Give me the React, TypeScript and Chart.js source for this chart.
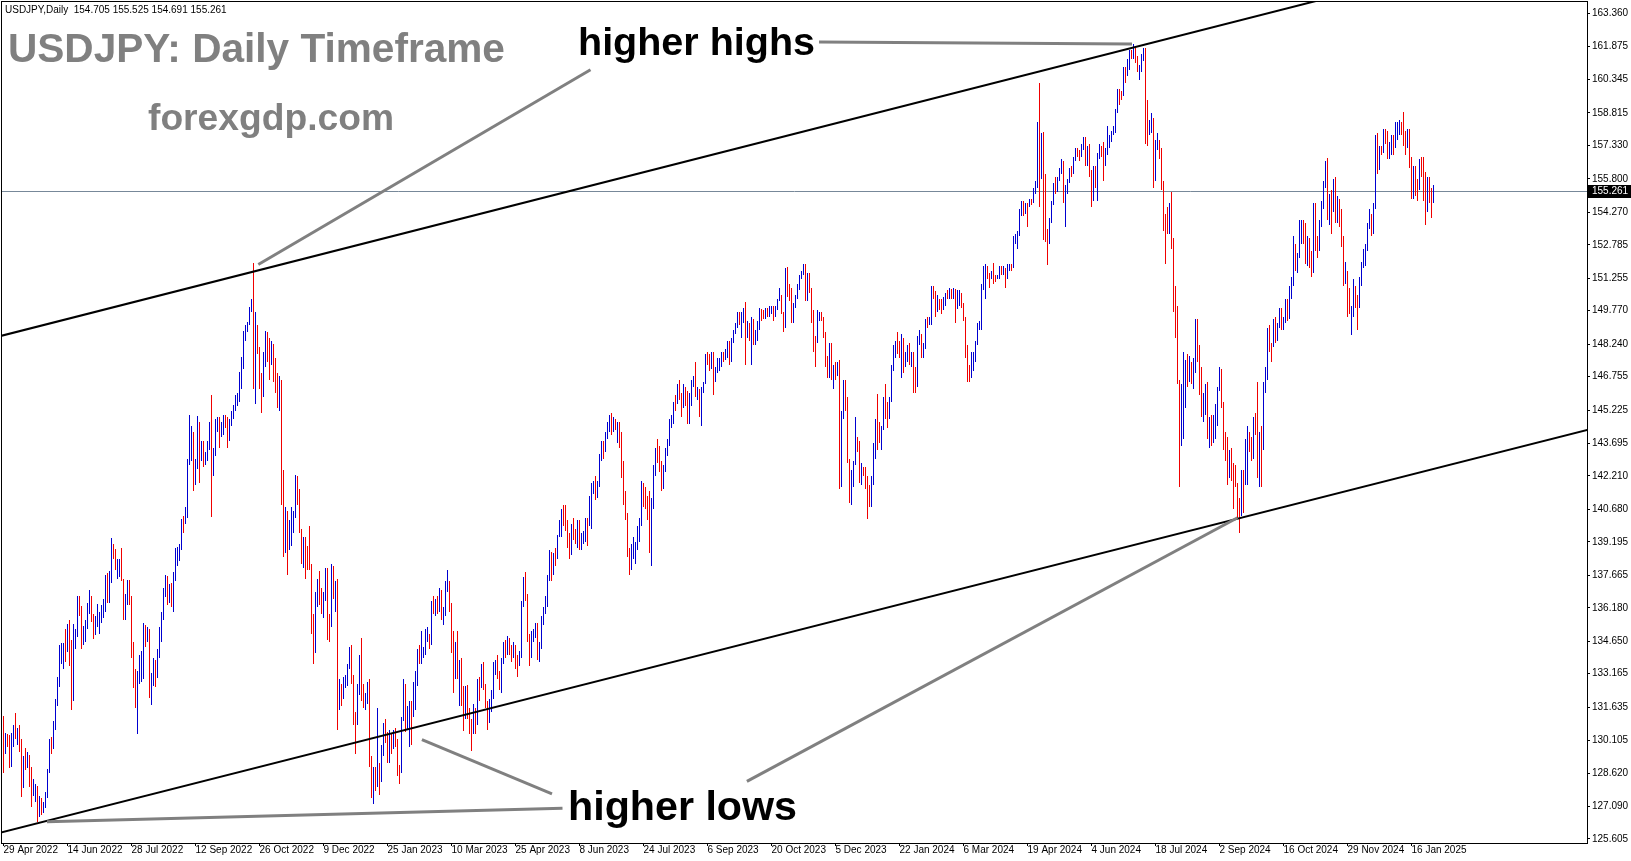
import { useEffect, useRef } from "react";
import { Chart, registerables } from "chart.js";

Chart.register(...registerables);

// ---------- text / axis data ----------
const HEADER_TEXT = "USDJPY,Daily  154.705 155.525 154.691 155.261";
const TITLE_TEXT = "USDJPY: Daily Timeframe";
const SITE_TEXT = "forexgdp.com";
const HIGHS_TEXT = "higher highs";
const LOWS_TEXT = "higher lows";
const CURRENT_PRICE = 155.261;

const Y_TICKS = [
  163.36, 161.875, 160.345, 158.815, 157.33, 155.8, 154.27, 152.785, 151.255, 149.77, 148.24, 146.755, 145.225,
  143.695, 142.21, 140.68, 139.195, 137.665, 136.18, 134.65, 133.165, 131.635, 130.105, 128.62, 127.09, 125.605,
];
const X_LABELS = [
  "29 Apr 2022", "14 Jun 2022", "28 Jul 2022", "12 Sep 2022", "26 Oct 2022", "9 Dec 2022", "25 Jan 2023",
  "10 Mar 2023", "25 Apr 2023", "8 Jun 2023", "24 Jul 2023", "6 Sep 2023", "20 Oct 2023", "5 Dec 2023",
  "22 Jan 2024", "6 Mar 2024", "19 Apr 2024", "4 Jun 2024", "18 Jul 2024", "2 Sep 2024", "16 Oct 2024",
  "29 Nov 2024", "16 Jan 2025",
];
const BARS_PER_LABEL = 32;

// ---------- daily OHLC bars [open, high, low, close] ----------
const M2022_04 = [[130.85, 131.25, 128.62, 129.7]];
const M2022_05 = [
  [129.7, 130.45, 129.5, 130.18], [130.18, 130.4, 129.8, 130.12], [130.12, 130.38, 128.85, 129.08], [129.08, 130.45, 128.9, 130.22],
  [130.22, 130.8, 129.8, 130.55], [130.55, 131.35, 130.2, 130.28], [130.28, 130.7, 129.9, 130.45], [130.45, 130.8, 129.6, 129.95],
  [129.95, 130.2, 127.52, 128.35], [128.35, 129.4, 127.95, 129.25], [129.25, 129.75, 128.75, 129.18], [129.18, 129.6, 128.85, 129.4],
  [129.4, 129.45, 128.0, 128.25], [128.25, 128.9, 127.05, 127.8], [127.8, 128.35, 127.55, 127.88], [127.88, 128.1, 127.3, 127.9],
  [127.9, 128.05, 126.36, 126.85], [126.85, 127.55, 126.6, 127.3], [127.3, 127.5, 126.7, 127.1], [127.1, 127.3, 126.8, 127.12],
  [127.12, 127.75, 127.0, 127.6], [127.6, 128.8, 127.5, 128.68],
];
const M2022_06 = [
  [128.68, 130.2, 128.6, 130.05], [130.05, 130.25, 129.5, 129.88], [129.88, 131.0, 129.7, 130.85], [130.85, 132.0, 130.6, 131.9],
  [131.9, 133.0, 131.7, 132.65], [132.65, 134.5, 132.55, 134.25], [134.25, 134.55, 133.6, 134.35], [134.35, 134.55, 133.4, 134.4],
  [134.4, 135.2, 133.7, 134.38], [134.38, 135.45, 134.15, 135.45], [135.45, 135.6, 133.5, 133.9], [133.9, 134.7, 131.5, 132.2],
  [132.2, 135.45, 131.9, 134.95], [134.95, 135.2, 134.3, 135.05], [135.05, 136.7, 134.85, 136.6], [136.6, 136.7, 135.8, 136.2],
  [136.2, 136.25, 134.3, 134.9], [134.9, 135.35, 134.5, 135.2], [135.2, 135.6, 134.6, 135.45], [135.45, 136.4, 135.2, 136.15],
  [136.15, 137.0, 135.9, 136.6], [136.6, 136.7, 135.55, 135.7],
];
const M2022_07 = [
  [135.7, 135.9, 134.75, 135.2], [135.2, 135.8, 134.95, 135.7], [135.7, 136.35, 135.3, 135.85], [135.85, 136.0, 135.0, 135.9],
  [135.9, 136.3, 135.5, 136.0], [136.0, 136.6, 135.7, 136.1], [136.1, 137.7, 136.0, 137.4], [137.4, 137.75, 136.4, 136.85],
  [136.85, 137.85, 136.4, 137.4], [137.4, 139.39, 137.3, 138.9], [138.9, 139.1, 138.4, 138.55], [138.55, 138.85, 137.9, 138.15],
  [138.15, 138.4, 137.5, 138.2], [138.2, 138.4, 137.6, 138.25], [138.25, 138.9, 137.4, 137.4], [137.4, 137.5, 135.6, 136.1],
  [136.1, 136.8, 135.6, 136.65], [136.65, 137.45, 136.3, 136.95], [136.95, 137.45, 136.3, 136.6], [136.6, 136.7, 133.9, 134.25],
  [134.25, 134.6, 132.5, 133.25],
];
const M2022_08 = [
  [133.25, 133.4, 131.6, 131.6], [131.6, 133.3, 130.4, 133.15], [133.15, 134.0, 132.7, 133.85], [133.85, 134.2, 132.8, 133.9],
  [133.9, 135.5, 132.9, 135.0], [135.0, 135.4, 134.4, 134.95], [134.95, 135.3, 134.6, 135.1], [135.1, 135.2, 132.05, 132.9],
  [132.9, 133.2, 131.75, 133.0], [133.0, 133.9, 132.6, 133.45], [133.45, 133.8, 132.55, 133.3], [133.3, 134.3, 132.95, 134.2],
  [134.2, 135.3, 133.9, 135.0], [135.0, 136.0, 134.6, 135.9], [135.9, 137.1, 135.6, 136.95], [136.95, 137.7, 136.65, 137.5],
  [137.5, 137.65, 136.3, 136.8], [136.8, 137.25, 136.4, 137.15], [137.15, 137.3, 136.2, 136.6], [136.6, 137.8, 136.0, 137.6],
  [137.6, 138.9, 137.4, 138.7], [138.7, 138.95, 138.1, 138.75], [138.75, 139.1, 138.3, 138.95],
];
const M2022_09 = [
  [138.95, 140.25, 138.8, 140.2], [140.2, 140.4, 139.6, 140.15], [140.15, 140.8, 140.0, 140.5], [140.5, 143.0, 140.3, 142.8],
  [142.8, 145.0, 142.7, 144.0], [144.0, 144.5, 142.9, 144.1], [144.1, 144.2, 141.5, 142.6], [142.6, 143.0, 141.8, 142.8],
  [142.8, 144.95, 142.55, 144.6], [144.6, 144.7, 141.9, 143.2], [143.2, 143.8, 142.9, 143.5], [143.5, 143.8, 142.6, 142.9],
  [142.9, 143.3, 142.7, 143.2], [143.2, 143.8, 142.9, 143.7], [143.7, 144.7, 143.4, 144.1], [144.1, 145.9, 140.35, 142.4],
  [142.4, 143.5, 142.2, 143.4], [143.4, 144.8, 143.1, 144.7], [144.7, 144.9, 144.2, 144.8], [144.8, 144.9, 143.5, 144.2],
  [144.2, 144.7, 144.0, 144.5], [144.5, 145.0, 144.1, 144.7],
];
const M2022_10 = [
  [144.7, 145.0, 144.4, 144.6], [144.6, 144.9, 143.5, 144.1], [144.1, 144.8, 143.8, 144.6], [144.6, 145.2, 144.5, 145.1],
  [145.1, 145.45, 144.8, 145.3], [145.3, 145.9, 145.2, 145.7], [145.7, 146.0, 145.4, 145.8], [145.8, 146.95, 145.6, 146.9],
  [146.9, 147.65, 146.2, 147.2], [147.2, 148.85, 147.1, 148.7], [148.7, 149.1, 148.4, 149.0], [149.0, 149.25, 148.8, 149.2],
  [149.2, 149.95, 149.1, 149.9], [149.9, 150.3, 149.7, 150.1], [150.1, 151.94, 146.2, 147.6], [147.6, 149.7, 145.5, 148.9],
  [148.9, 149.1, 147.8, 148.0], [148.0, 148.1, 146.2, 146.4], [146.4, 146.9, 145.1, 146.3], [146.3, 147.9, 145.8, 147.5],
  [147.5, 148.85, 147.2, 148.7],
];
const M2022_11 = [
  [148.7, 148.8, 147.4, 148.2], [148.2, 148.5, 146.6, 147.9], [147.9, 148.4, 147.3, 148.1], [148.1, 148.25, 146.5, 146.6],
  [146.6, 147.6, 146.0, 146.55], [146.55, 146.9, 145.3, 145.6], [145.6, 146.8, 145.2, 146.4], [146.4, 146.6, 140.9, 141.0],
  [141.0, 142.5, 138.5, 138.8], [138.8, 140.8, 138.7, 139.9], [139.9, 140.6, 137.7, 139.3], [139.3, 140.2, 138.8, 139.5],
  [139.5, 140.8, 139.0, 140.2], [140.2, 140.6, 139.6, 140.4], [140.4, 142.25, 140.3, 142.1], [142.1, 142.2, 140.9, 141.2],
  [141.2, 141.6, 139.6, 139.6], [139.6, 139.8, 138.2, 138.5], [138.5, 139.4, 138.0, 139.2], [139.2, 139.4, 137.5, 138.9],
  [138.9, 139.0, 137.9, 138.7], [138.7, 139.9, 137.9, 138.1],
];
const M2022_12 = [
  [138.1, 138.2, 135.0, 135.3], [135.3, 135.9, 133.6, 134.3], [134.3, 136.9, 134.1, 136.8], [136.8, 137.5, 136.2, 137.0],
  [137.0, 137.85, 136.3, 136.6], [136.6, 137.1, 135.9, 136.55], [136.55, 136.9, 135.7, 136.6], [136.6, 138.0, 136.5, 137.7],
  [137.7, 138.0, 134.7, 135.6], [135.6, 135.9, 134.6, 135.5], [135.5, 138.2, 135.3, 137.8], [137.8, 138.1, 136.6, 136.7],
  [136.7, 137.4, 136.0, 136.9], [136.9, 137.5, 130.6, 131.7], [131.7, 132.9, 131.5, 132.4], [132.4, 132.7, 131.7, 132.35],
  [132.35, 133.0, 132.0, 132.8], [132.8, 133.1, 132.5, 132.9], [132.9, 133.6, 132.6, 133.5], [133.5, 134.4, 133.4, 134.4],
  [134.4, 134.5, 132.7, 133.0], [133.0, 133.1, 130.8, 131.1],
];
const M2023_01 = [
  [131.1, 131.4, 129.5, 131.0], [131.0, 132.7, 130.8, 132.4], [132.4, 134.0, 132.2, 133.4], [133.4, 134.8, 131.9, 132.1],
  [132.1, 132.7, 131.6, 131.9], [131.9, 132.3, 131.5, 132.2], [132.2, 132.8, 131.8, 132.4], [132.4, 132.9, 128.9, 129.2],
  [129.2, 129.4, 127.5, 127.9], [127.9, 128.9, 127.2, 128.5], [128.5, 128.9, 127.8, 128.4], [128.4, 131.6, 128.0, 128.9],
  [128.9, 129.1, 127.6, 128.4], [128.4, 129.9, 128.2, 129.6], [129.6, 130.9, 129.4, 130.7], [130.7, 131.1, 130.0, 130.2],
  [130.2, 130.5, 129.1, 129.2], [129.2, 130.6, 129.1, 130.2], [130.2, 130.4, 129.5, 129.9], [129.9, 130.6, 129.7, 130.4],
  [130.4, 130.7, 129.8, 130.1],
];
const M2023_02 = [
  [130.1, 130.2, 128.5, 128.9], [128.9, 129.0, 128.1, 128.7], [128.7, 131.2, 128.6, 131.2], [131.2, 132.9, 131.0, 132.6],
  [132.6, 132.7, 130.5, 131.1], [131.1, 131.7, 130.6, 131.4], [131.4, 131.9, 129.8, 131.45], [131.45, 131.9, 129.9, 131.35],
  [131.35, 132.8, 131.2, 132.4], [132.4, 133.3, 131.5, 133.1], [133.1, 134.3, 132.6, 134.1], [134.1, 134.5, 133.6, 133.9],
  [133.9, 135.1, 133.6, 134.2], [134.2, 134.4, 133.9, 134.25], [134.25, 135.2, 134.0, 134.9], [134.9, 135.3, 134.6, 134.95],
  [134.95, 135.0, 134.3, 134.7], [134.7, 136.5, 134.5, 136.45], [136.45, 136.7, 135.9, 136.2], [136.2, 136.6, 135.8, 136.25],
];
const M2023_03 = [
  [136.25, 136.7, 135.9, 136.1], [136.1, 137.1, 136.0, 136.7], [136.7, 137.0, 135.6, 135.9], [135.9, 136.2, 135.4, 135.95],
  [135.95, 137.4, 135.8, 137.2], [137.2, 137.9, 136.9, 137.3], [137.3, 137.4, 136.0, 136.1], [136.1, 136.4, 134.1, 134.9],
  [134.9, 135.1, 132.3, 133.2], [133.2, 134.6, 132.9, 134.2], [134.2, 135.1, 132.9, 133.4], [133.4, 133.8, 131.7, 133.7],
  [133.7, 133.9, 131.7, 131.9], [131.9, 132.6, 130.55, 131.4], [131.4, 132.6, 131.1, 132.5], [132.5, 132.65, 131.1, 131.5],
  [131.5, 131.6, 130.4, 130.9], [130.9, 131.1, 129.65, 130.7], [130.7, 131.8, 130.4, 131.5], [131.5, 131.6, 130.4, 130.9],
  [130.9, 132.9, 130.8, 132.8], [132.8, 133.0, 131.9, 132.7], [132.7, 133.6, 132.5, 132.8],
];
const M2023_04 = [
  [132.8, 133.7, 132.4, 132.5], [132.5, 132.7, 131.6, 131.7], [131.7, 131.9, 130.6, 131.3], [131.3, 132.0, 130.9, 131.8],
  [131.8, 132.4, 131.4, 132.2], [132.2, 133.7, 132.0, 133.6], [133.6, 133.8, 133.1, 133.7], [133.7, 134.0, 132.9, 133.1],
  [133.1, 133.3, 132.4, 132.6], [132.6, 133.9, 132.3, 133.8], [133.8, 134.6, 133.6, 134.5], [134.5, 134.7, 133.9, 134.1],
  [134.1, 134.9, 134.0, 134.7], [134.7, 134.8, 134.0, 134.3], [134.3, 134.5, 133.7, 134.1], [134.1, 134.6, 133.9, 134.3],
  [134.3, 134.5, 133.4, 133.7], [133.7, 134.0, 133.0, 133.6], [133.6, 134.2, 133.5, 133.9], [133.9, 136.5, 133.9, 136.3],
];
const M2023_05 = [
  [136.3, 137.6, 136.2, 137.5], [137.5, 137.8, 136.5, 136.6], [136.6, 136.8, 134.6, 134.6], [134.6, 135.0, 133.5, 134.3],
  [134.3, 135.1, 133.9, 134.8], [134.8, 135.2, 134.6, 135.1], [135.1, 135.5, 134.8, 135.2], [135.2, 135.5, 133.8, 134.3],
  [134.3, 134.6, 133.7, 134.5], [134.5, 135.8, 134.3, 135.7], [135.7, 136.2, 135.4, 136.1], [136.1, 136.7, 135.9, 136.4],
  [136.4, 137.7, 136.2, 137.6], [137.6, 138.8, 137.4, 138.7], [138.7, 138.75, 137.4, 137.9], [137.9, 138.7, 137.7, 138.6],
  [138.6, 138.9, 138.1, 138.55], [138.55, 139.5, 138.4, 139.5], [139.5, 140.2, 139.4, 140.1], [140.1, 140.7, 139.4, 140.6],
  [140.6, 140.9, 139.9, 140.4], [140.4, 140.9, 139.7, 139.8], [139.8, 140.2, 138.9, 139.3],
];
const M2023_06 = [
  [139.3, 139.6, 138.4, 138.8], [138.8, 140.0, 138.6, 139.9], [139.9, 140.3, 139.3, 139.6], [139.6, 139.8, 139.1, 139.55],
  [139.55, 140.2, 138.9, 140.1], [140.1, 140.2, 138.8, 139.0], [139.0, 139.6, 138.8, 139.4], [139.4, 139.7, 139.1, 139.6],
  [139.6, 140.3, 139.2, 140.2], [140.2, 140.3, 139.0, 140.0], [140.0, 141.3, 139.9, 140.3], [140.3, 141.9, 139.8, 141.8],
  [141.8, 142.0, 141.4, 141.9], [141.9, 142.2, 141.1, 141.5], [141.5, 142.0, 141.2, 141.9], [141.9, 143.2, 141.7, 143.1],
  [143.1, 143.8, 142.9, 143.7], [143.7, 143.8, 143.0, 143.5], [143.5, 144.2, 143.3, 144.0], [144.0, 144.7, 143.9, 144.4],
  [144.4, 145.0, 144.2, 144.8], [144.8, 145.1, 144.1, 144.3],
];
const M2023_07 = [
  [144.3, 144.9, 144.2, 144.7], [144.7, 144.8, 144.3, 144.5], [144.5, 144.7, 143.7, 144.6], [144.6, 144.7, 143.5, 144.1],
  [144.1, 144.2, 142.1, 142.1], [142.1, 142.9, 140.9, 141.3], [141.3, 141.5, 140.2, 140.4], [140.4, 140.5, 138.5, 138.5],
  [138.5, 138.9, 137.7, 138.1], [138.1, 139.1, 137.9, 138.8], [138.8, 139.4, 138.4, 139.0], [139.0, 139.2, 138.2, 139.1],
  [139.1, 139.9, 138.8, 139.7], [139.7, 140.3, 139.2, 140.1], [140.1, 142.0, 139.9, 141.8], [141.8, 141.9, 140.8, 141.5],
  [141.5, 141.7, 140.7, 140.9], [140.9, 141.3, 140.2, 140.3], [141.4, 141.5, 138.7, 139.5], [139.5, 141.2, 138.1, 141.1],
  [141.1, 142.7, 140.7, 142.3],
];
const M2023_08 = [
  [142.3, 143.5, 142.2, 143.3], [143.3, 143.9, 142.8, 143.25], [143.25, 143.6, 142.4, 142.5], [142.5, 142.9, 141.5, 141.8],
  [141.8, 142.7, 141.6, 142.5], [142.5, 143.5, 142.4, 143.4], [143.4, 143.9, 143.1, 143.8], [143.8, 144.8, 143.6, 144.7],
  [144.7, 145.0, 144.4, 144.9], [144.9, 145.6, 144.6, 145.6], [145.6, 145.9, 145.2, 145.55], [145.55, 146.4, 145.5, 146.3],
  [146.3, 146.6, 145.7, 145.8], [145.8, 146.0, 144.9, 145.4], [145.4, 146.4, 145.3, 146.2], [146.2, 146.3, 145.4, 145.9],
  [145.9, 146.1, 144.6, 144.8], [144.8, 146.0, 144.6, 145.8], [145.8, 146.6, 145.4, 146.4], [146.4, 146.8, 146.3, 146.5],
  [146.5, 147.4, 145.8, 145.9], [145.9, 146.3, 145.7, 146.1], [146.1, 146.2, 144.9, 145.5],
];
const M2023_09 = [
  [145.5, 146.3, 144.5, 146.2], [146.2, 146.5, 146.0, 146.5], [146.5, 147.8, 146.4, 147.7], [147.7, 147.9, 147.3, 147.65],
  [147.65, 147.8, 147.0, 147.3], [147.3, 147.9, 147.1, 147.8], [147.8, 147.9, 145.9, 146.6], [146.6, 147.2, 146.5, 147.1],
  [147.1, 147.6, 146.9, 147.4], [147.4, 147.6, 147.0, 147.5], [147.5, 147.9, 147.2, 147.8], [147.8, 147.9, 147.4, 147.6],
  [147.6, 148.0, 147.5, 147.9], [147.9, 148.4, 147.6, 148.3], [148.3, 148.4, 147.3, 147.6], [147.6, 148.5, 147.4, 148.4],
  [148.4, 148.9, 148.3, 148.8], [148.8, 149.2, 148.7, 149.1], [149.1, 149.7, 149.0, 149.6], [149.6, 149.7, 149.1, 149.3],
  [149.3, 149.7, 148.5, 149.35],
];
const M2023_10 = [
  [149.35, 149.9, 149.2, 149.85], [149.85, 150.16, 147.3, 149.0], [149.0, 149.3, 148.5, 149.1], [149.1, 149.2, 148.4, 148.5],
  [148.5, 149.5, 147.3, 149.3], [149.3, 149.4, 148.2, 148.5], [148.5, 148.9, 148.2, 148.7], [148.7, 149.3, 148.4, 149.1],
  [149.1, 149.9, 148.9, 149.8], [149.8, 149.85, 149.3, 149.6], [149.6, 149.8, 149.4, 149.5], [149.5, 149.9, 149.4, 149.8],
  [149.8, 149.9, 149.5, 149.75], [149.75, 150.0, 149.5, 149.8], [149.8, 150.0, 149.6, 149.9], [149.9, 150.0, 149.3, 149.7],
  [149.7, 150.0, 149.5, 149.9], [149.9, 150.3, 149.8, 150.2], [150.2, 150.8, 150.2, 150.4], [150.4, 150.5, 149.6, 149.6],
  [149.6, 149.7, 148.8, 149.1], [149.1, 151.7, 149.0, 151.7],
];
const M2023_11 = [
  [151.7, 151.75, 150.4, 150.9], [150.9, 151.0, 150.2, 150.5], [150.5, 150.8, 149.2, 149.4], [149.4, 150.1, 149.2, 150.0],
  [150.0, 150.5, 149.9, 150.4], [150.4, 151.0, 150.3, 150.9], [150.9, 151.4, 150.7, 151.3], [151.3, 151.6, 151.2, 151.5],
  [151.5, 151.9, 151.4, 151.7], [151.7, 151.9, 150.2, 150.4], [150.4, 151.5, 150.2, 151.4], [151.4, 151.5, 150.6, 150.7],
  [150.7, 150.8, 149.2, 149.6], [149.6, 149.8, 147.9, 148.4], [148.4, 148.6, 147.2, 148.35], [148.35, 149.8, 148.3, 149.5],
  [149.5, 149.7, 149.3, 149.6], [149.6, 149.7, 149.3, 149.4], [149.4, 149.5, 148.5, 148.7], [148.7, 148.8, 147.2, 147.4],
  [147.4, 147.7, 146.7, 147.2], [147.2, 148.3, 146.7, 148.2],
];
const M2023_12 = [
  [148.2, 148.3, 146.6, 146.8], [146.8, 147.3, 146.2, 147.2], [147.2, 147.4, 146.6, 147.15], [147.15, 147.4, 146.8, 147.3],
  [147.3, 147.5, 141.6, 144.2], [144.2, 145.2, 141.7, 144.9], [144.9, 146.6, 144.8, 146.2], [146.2, 146.6, 145.2, 145.4],
  [145.4, 145.8, 142.8, 142.9], [142.9, 143.0, 140.95, 141.9], [141.9, 142.5, 140.9, 142.2], [142.2, 142.9, 141.7, 142.8],
  [142.8, 144.9, 142.7, 143.8], [143.8, 144.0, 143.3, 143.6], [143.6, 143.8, 141.9, 142.1], [142.1, 142.8, 141.8, 142.4],
  [142.4, 142.6, 142.2, 142.35], [142.35, 142.6, 141.6, 142.0], [142.0, 142.2, 140.25, 141.4], [141.4, 141.8, 140.8, 141.0],
];
const M2024_01 = [
  [141.0, 142.2, 140.8, 142.0], [142.0, 143.7, 141.8, 143.3], [143.3, 144.8, 143.0, 144.6], [144.6, 145.95, 143.4, 144.55],
  [144.55, 144.7, 143.7, 144.3], [144.3, 144.5, 143.4, 144.4], [144.4, 145.8, 144.3, 145.7], [145.7, 146.4, 144.8, 145.3],
  [145.3, 145.6, 144.4, 144.9], [144.9, 145.8, 144.8, 145.7], [145.7, 147.3, 145.6, 147.2], [147.2, 148.2, 147.0, 148.1],
  [148.1, 148.4, 147.6, 148.2], [148.2, 148.8, 147.8, 148.1], [148.1, 148.4, 147.6, 148.05], [148.05, 148.7, 146.7, 148.4],
  [148.4, 148.5, 146.9, 147.5], [147.5, 147.9, 147.2, 147.7], [147.7, 148.2, 147.4, 148.1], [148.1, 148.3, 147.3, 147.5],
  [147.5, 147.9, 147.2, 147.6], [147.6, 147.9, 146.0, 146.9],
];
const M2024_02 = [
  [146.9, 147.2, 146.0, 146.4], [146.4, 148.6, 146.3, 148.4], [148.4, 148.9, 148.2, 148.6], [148.6, 148.7, 147.6, 147.9],
  [147.9, 148.3, 147.6, 148.2], [148.2, 149.4, 148.0, 149.3], [149.3, 149.5, 149.0, 149.25], [149.25, 149.5, 149.1, 149.3],
  [149.3, 150.9, 149.1, 150.8], [150.8, 150.9, 150.3, 150.6], [150.6, 150.65, 149.5, 149.9], [149.9, 150.5, 149.7, 150.2],
  [150.2, 150.3, 149.8, 150.1], [150.1, 150.3, 149.6, 149.9], [149.9, 150.4, 149.8, 150.3], [150.3, 150.6, 150.0, 150.5],
  [150.5, 150.7, 150.3, 150.45], [150.45, 150.8, 150.3, 150.7], [150.7, 150.75, 150.3, 150.5], [150.5, 150.8, 150.3, 150.7],
  [150.7, 150.75, 149.2, 149.9],
];
const M2024_03 = [
  [149.9, 150.7, 149.85, 150.1], [150.1, 150.7, 150.0, 150.5], [150.5, 150.6, 149.9, 150.0], [150.0, 150.1, 149.3, 149.4],
  [149.4, 149.5, 147.6, 148.0], [148.0, 148.2, 146.5, 147.0], [147.0, 147.3, 146.5, 146.9], [146.9, 147.9, 146.7, 147.6],
  [147.6, 147.9, 147.0, 147.8], [147.8, 148.4, 147.4, 148.3], [148.3, 149.2, 148.2, 149.0], [149.0, 149.3, 148.9, 149.1],
  [149.1, 151.0, 148.9, 150.9], [150.9, 151.8, 150.7, 151.2], [151.2, 151.9, 150.3, 151.6], [151.6, 151.8, 151.2, 151.4],
  [151.4, 151.5, 150.8, 151.35], [151.35, 151.6, 151.2, 151.5], [151.5, 151.97, 151.0, 151.3], [151.3, 151.4, 151.1, 151.25],
  [151.25, 151.4, 151.2, 151.3],
];
const M2024_04 = [
  [151.3, 151.8, 151.2, 151.6], [151.6, 151.8, 151.4, 151.55], [151.55, 151.8, 151.4, 151.6], [151.6, 151.7, 150.8, 151.3],
  [151.3, 151.9, 151.2, 151.6], [151.6, 151.9, 151.6, 151.8], [151.8, 151.9, 151.6, 151.75], [151.75, 153.2, 151.7, 153.15],
  [153.15, 153.3, 152.8, 153.2], [153.2, 153.4, 152.6, 153.25], [153.25, 154.4, 153.2, 154.2], [154.2, 154.8, 154.1, 154.7],
  [154.7, 154.8, 154.1, 154.4], [154.4, 154.7, 154.2, 154.6], [154.6, 154.7, 153.6, 154.55], [154.55, 154.9, 154.5, 154.8],
  [154.8, 154.9, 154.6, 154.75], [154.75, 155.4, 154.7, 155.35], [155.35, 155.7, 155.1, 155.6], [155.6, 158.4, 155.4, 158.3],
  [158.3, 160.2, 154.5, 156.3], [156.3, 157.9, 155.8, 157.8],
];
const M2024_05 = [
  [157.8, 157.95, 153.0, 155.0], [155.0, 156.0, 152.9, 153.0], [153.0, 153.5, 151.86, 152.9], [152.9, 154.0, 152.8, 153.9],
  [153.9, 154.8, 153.8, 154.7], [154.7, 155.6, 154.6, 155.5], [155.5, 155.9, 155.1, 155.45], [155.45, 155.9, 155.2, 155.8],
  [155.8, 156.3, 155.7, 156.2], [156.2, 156.7, 156.0, 156.4], [156.4, 156.6, 154.7, 154.9], [154.9, 155.5, 153.6, 155.4],
  [155.4, 155.8, 155.1, 155.7], [155.7, 156.3, 155.6, 156.3], [156.3, 156.4, 155.9, 156.2], [156.2, 156.8, 156.0, 156.8],
  [156.8, 157.2, 156.6, 157.0], [157.0, 157.2, 156.8, 156.95], [156.95, 157.1, 156.6, 156.9], [156.9, 157.4, 156.8, 157.2],
  [157.2, 157.7, 157.1, 157.6], [157.6, 157.7, 156.4, 156.8], [156.8, 157.3, 156.4, 157.3],
];
const M2024_06 = [
  [157.3, 157.4, 155.9, 156.1], [156.1, 156.2, 154.5, 154.9], [154.9, 156.4, 154.8, 156.1], [156.1, 156.4, 155.4, 155.6],
  [155.6, 157.0, 154.8, 156.8], [156.8, 157.4, 156.7, 157.1], [157.1, 157.3, 156.8, 157.05], [157.05, 157.5, 155.7, 156.7],
  [156.7, 157.2, 156.4, 157.0], [157.0, 158.2, 156.9, 157.4], [157.4, 157.8, 157.2, 157.7], [157.7, 158.0, 157.5, 157.9],
  [157.9, 158.2, 157.8, 158.1], [158.1, 159.0, 157.9, 158.9], [158.9, 159.9, 158.8, 159.8], [159.8, 159.9, 159.2, 159.7],
  [159.7, 159.8, 159.4, 159.65], [159.65, 160.9, 159.6, 160.8], [160.8, 160.9, 160.2, 160.75], [160.75, 161.3, 160.5, 160.9],
];
const M2024_07 = [
  [160.9, 161.7, 160.8, 161.5], [161.5, 161.7, 161.3, 161.45], [161.45, 161.95, 161.3, 161.7], [161.7, 161.8, 161.1, 161.3],
  [161.3, 161.4, 160.7, 160.8], [160.8, 161.0, 160.3, 160.85], [160.85, 161.5, 160.7, 161.3], [161.3, 161.8, 161.2, 161.7],
  [161.7, 161.8, 157.4, 158.8], [158.8, 159.4, 157.3, 157.9], [157.9, 158.5, 157.8, 158.1], [158.1, 158.8, 157.9, 158.4],
  [158.4, 158.6, 155.4, 156.2], [156.2, 157.6, 155.7, 157.4], [157.4, 157.9, 157.1, 157.5], [157.5, 157.6, 156.7, 157.0],
  [157.0, 157.2, 155.3, 155.5], [155.5, 155.7, 153.4, 153.9], [153.9, 154.2, 151.9, 153.85], [153.85, 154.5, 153.3, 153.7],
  [153.7, 154.7, 153.3, 153.9], [153.9, 155.2, 152.6, 152.7], [152.7, 153.1, 149.7, 150.0],
];
const M2024_08 = [
  [150.0, 150.9, 148.5, 149.4], [149.4, 150.0, 146.4, 146.5], [146.5, 146.6, 141.7, 144.2], [144.2, 146.4, 143.6, 144.3],
  [144.3, 147.9, 143.9, 146.8], [146.8, 147.5, 145.3, 147.2], [147.2, 147.8, 146.3, 146.6], [146.6, 147.7, 146.5, 147.2],
  [147.2, 147.4, 146.4, 146.8], [146.8, 147.6, 146.2, 147.3], [147.3, 149.4, 146.9, 149.3], [149.3, 149.4, 147.4, 147.6],
  [147.6, 148.2, 145.9, 146.6], [146.6, 147.2, 144.9, 145.2], [145.2, 146.0, 144.7, 145.25], [145.25, 146.4, 145.0, 146.3],
  [146.3, 146.5, 143.9, 144.3], [144.3, 144.9, 143.5, 144.5], [144.5, 145.0, 143.6, 144.0], [144.0, 145.0, 143.7, 144.6],
  [144.6, 145.5, 143.9, 144.9], [144.9, 146.3, 144.5, 146.2],
];
const M2024_09 = [
  [146.2, 147.2, 146.1, 147.0], [147.0, 147.1, 145.3, 145.5], [145.5, 145.6, 143.4, 143.7], [143.7, 144.2, 142.9, 143.4],
  [143.4, 144.0, 141.8, 142.3], [142.3, 143.4, 142.1, 143.1], [143.1, 143.5, 142.0, 142.5], [142.5, 142.8, 140.7, 142.4],
  [142.4, 142.7, 141.7, 141.8], [141.8, 141.9, 140.3, 140.9], [140.9, 141.2, 139.58, 140.6], [140.6, 142.5, 140.4, 142.4],
  [142.4, 142.5, 140.5, 142.3], [142.3, 143.9, 141.8, 142.6], [142.6, 144.5, 141.8, 143.9], [143.9, 144.2, 143.3, 143.6],
  [143.6, 144.0, 142.9, 143.2], [143.2, 144.9, 143.0, 144.8], [144.8, 145.1, 144.1, 144.75], [144.75, 146.5, 142.1, 142.2],
  [142.2, 144.2, 141.7, 143.6],
];
const M2024_10 = [
  [143.6, 144.5, 141.7, 143.5], [143.5, 146.5, 143.4, 146.4], [146.4, 147.2, 146.0, 146.9], [146.9, 149.0, 146.6, 148.7],
  [148.7, 149.1, 147.9, 148.2], [148.2, 148.3, 147.4, 148.15], [148.15, 149.4, 148.1, 149.3], [149.3, 149.5, 148.3, 148.6],
  [148.6, 149.2, 148.4, 149.1], [149.1, 149.9, 149.0, 149.8], [149.8, 149.9, 148.9, 149.2], [149.2, 149.5, 148.9, 149.3],
  [149.3, 150.3, 149.2, 150.1], [150.1, 150.3, 149.3, 149.5], [149.5, 150.9, 149.4, 150.8], [150.8, 151.3, 150.3, 151.0],
  [151.0, 153.2, 150.9, 152.7], [152.7, 152.8, 151.6, 151.8], [151.8, 152.4, 151.5, 152.3], [152.3, 153.9, 152.2, 153.3],
  [153.3, 153.9, 152.8, 153.4], [153.4, 153.9, 152.8, 153.35], [153.35, 153.8, 151.9, 152.0],
];
const M2024_11 = [
  [152.0, 153.2, 151.8, 153.0], [153.0, 153.1, 151.7, 152.2], [152.2, 152.5, 151.3, 151.6], [151.6, 154.7, 151.5, 154.6],
  [154.6, 154.7, 152.5, 152.9], [152.9, 153.2, 152.2, 152.6], [152.6, 153.9, 152.5, 153.7], [153.7, 154.8, 153.6, 154.6],
  [154.6, 155.7, 154.4, 155.5], [155.5, 156.6, 155.4, 156.3], [156.3, 156.75, 153.9, 154.3], [154.3, 155.1, 153.7, 154.6],
  [154.6, 155.3, 153.3, 154.55], [154.55, 155.8, 154.3, 155.4], [155.4, 155.9, 153.8, 154.5], [154.5, 155.0, 153.8, 154.8],
  [154.8, 154.9, 153.6, 154.2], [154.2, 154.4, 152.7, 153.1], [153.1, 153.2, 150.9, 151.1], [151.1, 152.0, 151.0, 151.5],
  [151.5, 151.6, 149.5, 149.8],
];
const M2024_12 = [
  [149.8, 150.8, 149.6, 149.6], [149.6, 150.0, 148.65, 149.65], [149.65, 151.2, 149.5, 150.6], [150.6, 150.9, 149.9, 150.1],
  [150.1, 150.5, 148.9, 150.0], [150.0, 151.3, 149.9, 151.2], [151.2, 152.0, 150.9, 151.9], [151.9, 152.6, 151.7, 152.4],
  [152.4, 152.8, 151.8, 152.7], [152.7, 153.8, 152.5, 153.6], [153.6, 154.4, 153.5, 154.1], [154.1, 154.2, 153.2, 153.5],
  [153.5, 154.7, 153.3, 154.6], [154.6, 157.8, 154.4, 157.4], [157.4, 157.9, 156.0, 156.4], [156.4, 157.3, 156.2, 157.2],
  [157.2, 157.3, 156.9, 157.15], [157.15, 158.1, 157.0, 157.9], [157.9, 158.1, 157.4, 157.8], [157.8, 158.0, 156.7, 156.9],
  [156.9, 157.5, 156.7, 157.2],
];
const M2025_01 = [
  [157.2, 157.8, 156.9, 157.4], [157.4, 157.8, 156.9, 157.3], [157.3, 158.4, 157.2, 157.7], [157.7, 158.4, 157.6, 158.1],
  [158.1, 158.5, 157.8, 158.3], [158.3, 158.4, 157.8, 158.0], [158.0, 158.87, 157.3, 157.7], [157.7, 158.0, 156.9, 157.5],
  [157.5, 158.1, 157.2, 158.0], [158.0, 158.1, 156.3, 156.5], [156.5, 156.8, 154.9, 155.2], [155.2, 156.4, 154.9, 156.3],
  [156.3, 156.4, 155.0, 155.6], [155.6, 155.8, 154.8, 155.5], [155.5, 156.7, 155.3, 156.6], [156.6, 156.8, 155.9, 156.5],
  [156.5, 156.8, 154.8, 156.0], [156.0, 156.1, 153.7, 154.5], [154.5, 155.9, 154.3, 155.5], [155.5, 155.9, 154.7, 155.2],
  [155.2, 155.4, 154.0, 154.3], [154.705, 155.525, 154.691, 155.261],
];

const BARS: number[][] = [
  ...M2022_04, ...M2022_05, ...M2022_06, ...M2022_07, ...M2022_08, ...M2022_09, ...M2022_10, ...M2022_11, ...M2022_12,
  ...M2023_01, ...M2023_02, ...M2023_03, ...M2023_04, ...M2023_05, ...M2023_06, ...M2023_07, ...M2023_08, ...M2023_09,
  ...M2023_10, ...M2023_11, ...M2023_12, ...M2024_01, ...M2024_02, ...M2024_03, ...M2024_04, ...M2024_05, ...M2024_06,
  ...M2024_07, ...M2024_08, ...M2024_09, ...M2024_10, ...M2024_11, ...M2024_12, ...M2025_01,
];

// trend lines and pointer lines, as [bar index, price] pairs
const UPPER_CHANNEL = [[-2, 148.6], [800, 167.285]];
const LOWER_CHANNEL = [[-2, 125.88], [800, 144.5]];
const POINTER_LINES = [
  [[407.75, 162.06], [564.25, 161.97]],
  [[293.5, 160.79], [127.4, 151.88]],
  [[279.5, 127.01], [21.7, 126.39]],
  [[274.25, 127.67], [209.2, 130.15]],
  [[371.7, 128.24], [617, 140.3]],
];

// ---------- styling ----------
const UP_COLOR = "#0000D0";
const DOWN_COLOR = "#F00000";
const GREY = "#808080";
const FONT = "'Liberation Sans', Arial, sans-serif";

function fitFont(ctx: CanvasRenderingContext2D, text: string, width: number) {
  ctx.font = `bold 40px ${FONT}`;
  const w = ctx.measureText(text).width;
  const size = (40 * width) / w;
  ctx.font = `bold ${size.toFixed(2)}px ${FONT}`;
}

const annotations = {
  id: "annotations",
  beforeDatasetsDraw(chart: any) {
    const { ctx, chartArea: a, scales } = chart;
    // snap the 1px bars onto whole device pixels so they stay crisp
    const meta = chart.getDatasetMeta(0);
    for (const el of meta.data as any[]) {
      el.x = Math.floor(el.x) + 0.5;
      el.y = Math.round(el.y);
      el.base = Math.round(el.base);
      if (Math.abs(el.base - el.y) < 1) el.y = el.base - 1;
    }
    const y = Math.round(scales.y.getPixelForValue(CURRENT_PRICE)) + 0.5;
    ctx.save();
    ctx.strokeStyle = "#778899";
    ctx.lineWidth = 1;
    ctx.beginPath();
    ctx.moveTo(a.left, y);
    ctx.lineTo(a.right, y);
    ctx.stroke();
    ctx.restore();
  },
  afterDatasetsDraw(chart: any) {
    const { ctx, chartArea: a, scales } = chart;
    const px = (p: number[]) => [scales.x.getPixelForValue(p[0]), scales.y.getPixelForValue(p[1])];
    ctx.save();
    ctx.beginPath();
    ctx.rect(a.left, a.top, a.right - a.left, a.bottom - a.top);
    ctx.clip();
    ctx.lineCap = "butt";
    for (const line of [UPPER_CHANNEL, LOWER_CHANNEL]) {
      const [x1, y1] = px(line[0]);
      const [x2, y2] = px(line[1]);
      ctx.strokeStyle = "#000";
      ctx.lineWidth = 2;
      ctx.beginPath();
      ctx.moveTo(x1, y1);
      ctx.lineTo(x2, y2);
      ctx.stroke();
    }
    for (const line of POINTER_LINES) {
      const [x1, y1] = px(line[0]);
      const [x2, y2] = px(line[1]);
      ctx.strokeStyle = GREY;
      ctx.lineWidth = 3;
      ctx.beginPath();
      ctx.moveTo(x1, y1);
      ctx.lineTo(x2, y2);
      ctx.stroke();
    }
    ctx.restore();

    // frame
    ctx.save();
    ctx.strokeStyle = "#000";
    ctx.lineWidth = 1;
    ctx.strokeRect(a.left - 0.5, a.top - 0.5, a.right - a.left + 1, a.bottom - a.top + 1);
    ctx.restore();
  },
  afterDraw(chart: any) {
    const { ctx, chartArea: a, scales } = chart;
    ctx.save();
    ctx.textBaseline = "middle";
    ctx.textAlign = "left";
    ctx.fillStyle = "#000";
    ctx.font = `10px ${FONT}`;
    ctx.fillText(HEADER_TEXT, 5, 10);

    ctx.fillStyle = GREY;
    fitFont(ctx, TITLE_TEXT, 497);
    ctx.fillText(TITLE_TEXT, 8, 51);
    fitFont(ctx, SITE_TEXT, 246);
    ctx.fillText(SITE_TEXT, 148, 120);

    ctx.fillStyle = "#000";
    fitFont(ctx, HIGHS_TEXT, 237);
    ctx.fillText(HIGHS_TEXT, 578, 44);
    fitFont(ctx, LOWS_TEXT, 229);
    ctx.fillText(LOWS_TEXT, 568, 809);

    // current price tag
    const y = Math.round(scales.y.getPixelForValue(CURRENT_PRICE));
    ctx.fillStyle = "#000";
    ctx.fillRect(a.right + 1, y - 6, 44, 13);
    ctx.fillStyle = "#fff";
    ctx.font = `10px ${FONT}`;
    ctx.fillText(CURRENT_PRICE.toFixed(3), a.right + 5, y + 0.5);
    ctx.restore();
  },
};

export default function App() {
  const ref = useRef<HTMLCanvasElement>(null);
  useEffect(() => {
    const canvas = ref.current;
    if (!canvas) return;
    const colors = BARS.map((b) => (b[3] >= b[0] ? UP_COLOR : DOWN_COLOR));
    const chart = new Chart(canvas, {
      type: "bar",
      data: {
        datasets: [
          {
            data: BARS.map((b, i) => ({ x: i, y: [Math.min(b[2], b[0], b[3]), Math.max(b[1], b[0], b[3])] })) as any,
            backgroundColor: colors,
            borderWidth: 0,
            barThickness: 1,
            inflateAmount: 0,
            grouped: false,
          } as any,
        ],
      },
      options: {
        responsive: false,
        animation: false,
        devicePixelRatio: 1,
        layout: { padding: { left: 2, top: 2, right: 0, bottom: 0 } },
        plugins: { legend: { display: false }, tooltip: { enabled: false } },
        scales: {
          x: {
            type: "linear",
            position: "bottom",
            min: -0.75,
            max: 791.75,
            bounds: "data",
            offset: false,
            grid: { display: true, offset: false, drawOnChartArea: false, drawTicks: true, tickLength: 3, color: "#000" },
            border: { display: false },
            afterBuildTicks: (s: any) => {
              s.ticks = X_LABELS.map((_, k) => ({ value: k * BARS_PER_LABEL }));
            },
            afterFit: (s: any) => {
              s.height = 18;
              s.paddingLeft = 0;
              s.paddingRight = 0;
            },
            ticks: {
              autoSkip: false,
              maxRotation: 0,
              minRotation: 0,
              align: "start",
              padding: -2,
              labelOffset: 0,
              color: "#000",
              font: { family: FONT, size: 10 },
              callback: (v: any) => X_LABELS[Math.round(Number(v) / BARS_PER_LABEL)] ?? "",
            },
          } as any,
          y: {
            type: "linear",
            position: "right",
            min: 125.42,
            max: 163.89,
            bounds: "data",
            grid: { display: true, drawOnChartArea: false, drawTicks: true, tickLength: 3, color: "#000" },
            border: { display: false },
            afterBuildTicks: (s: any) => {
              s.ticks = Y_TICKS.map((v) => ({ value: v }));
            },
            afterFit: (s: any) => {
              s.width = 44;
              s.paddingTop = 0;
              s.paddingBottom = 0;
            },
            ticks: {
              autoSkip: false,
              padding: 2,
              color: "#000",
              font: { family: FONT, size: 10 },
              callback: (v: any) => Number(v).toFixed(3),
            },
          } as any,
        },
      },
      plugins: [annotations],
    });
    return () => chart.destroy();
  }, []);

  return (
    <div style={{ position: "fixed", left: 0, top: 0, width: 1631, height: 861, background: "#fff" }}>
      <canvas ref={ref} width={1631} height={861} style={{ width: 1631, height: 861, display: "block" }} />
    </div>
  );
}
